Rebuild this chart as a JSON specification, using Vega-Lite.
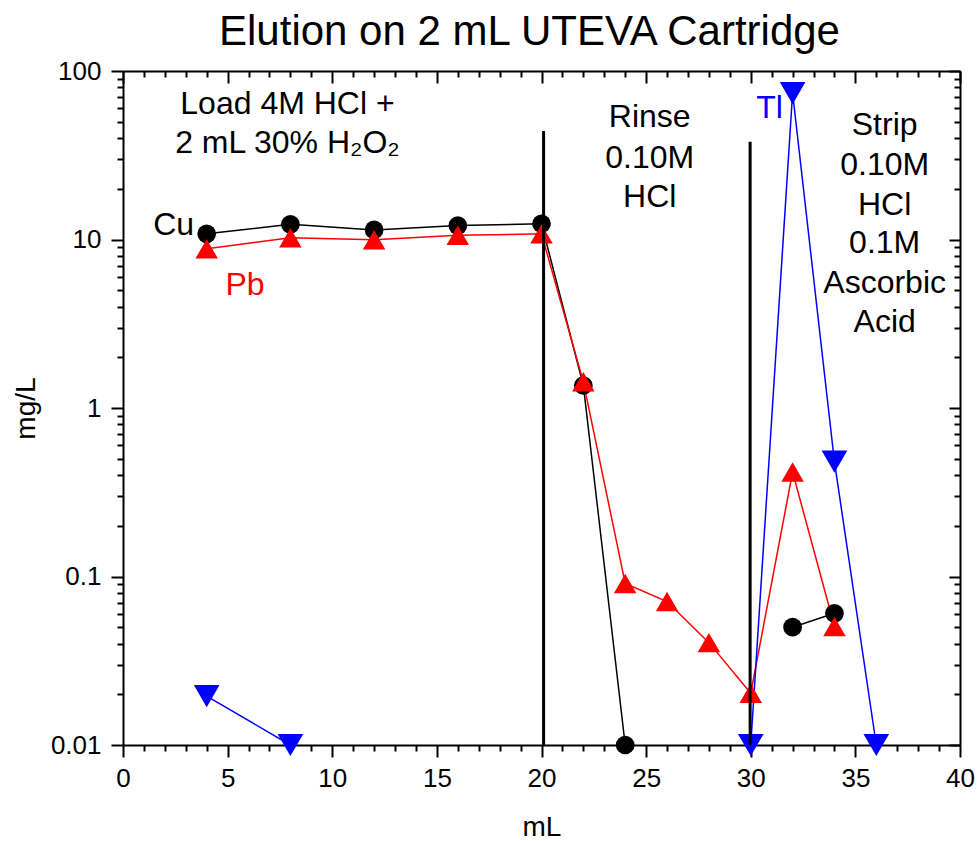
{
  "$schema": "https://vega.github.io/schema/vega-lite/v6.json",
  "autosize": {"type": "none"},
  "width": 837,
  "height": 674,
  "padding": {"left": 123, "top": 71, "right": 18, "bottom": 96},
  "background": "white",
  "title": {
    "text": "Elution on 2 mL UTEVA Cartridge",
    "font": "Liberation Sans",
    "fontSize": 42,
    "fontWeight": "normal",
    "color": "black",
    "anchor": "middle",
    "baseline": "alphabetic",
    "offset": 25,
    "dx": -12,
    "dy": 54
  },
  "config": {
    "view": {"stroke": null},
    "axis": {
      "grid": false,
      "domainColor": "black",
      "domainWidth": 2,
      "tickColor": "black",
      "tickWidth": 2,
      "labelFont": "Liberation Sans",
      "labelFontSize": 26,
      "labelColor": "black",
      "labelOverlap": false,
      "labelBound": false,
      "labelFlush": false,
      "titleFont": "Liberation Sans",
      "titleFontSize": 28,
      "titleFontWeight": "normal",
      "titleColor": "black"
    }
  },
  "datasets": {
    "series": [
      {"series": "Cu", "seg": "Cu1", "x": 4, "y": 10.8},
      {"series": "Cu", "seg": "Cu1", "x": 8, "y": 12.3},
      {"series": "Cu", "seg": "Cu1", "x": 12, "y": 11.4},
      {"series": "Cu", "seg": "Cu1", "x": 16, "y": 12.1},
      {"series": "Cu", "seg": "Cu1", "x": 20, "y": 12.4},
      {"series": "Cu", "seg": "Cu1", "x": 22, "y": 1.36},
      {"series": "Cu", "seg": "Cu1", "x": 24, "y": 0.01},
      {"series": "Cu", "seg": "Cu2", "x": 32, "y": 0.05},
      {"series": "Cu", "seg": "Cu2", "x": 34, "y": 0.0605},
      {"series": "Pb", "seg": "Pb1", "x": 4, "y": 8.8},
      {"series": "Pb", "seg": "Pb1", "x": 8, "y": 10.25},
      {"series": "Pb", "seg": "Pb1", "x": 12, "y": 9.97},
      {"series": "Pb", "seg": "Pb1", "x": 16, "y": 10.6},
      {"series": "Pb", "seg": "Pb1", "x": 20, "y": 10.8},
      {"series": "Pb", "seg": "Pb1", "x": 22, "y": 1.43},
      {"series": "Pb", "seg": "Pb1", "x": 24, "y": 0.091},
      {"series": "Pb", "seg": "Pb1", "x": 26, "y": 0.071},
      {"series": "Pb", "seg": "Pb1", "x": 28, "y": 0.0405},
      {"series": "Pb", "seg": "Pb1", "x": 30, "y": 0.0203},
      {"series": "Pb", "seg": "Pb1", "x": 32, "y": 0.417},
      {"series": "Pb", "seg": "Pb1", "x": 34, "y": 0.0505},
      {"series": "Tl", "seg": "Tl1", "x": 4, "y": 0.0195},
      {"series": "Tl", "seg": "Tl1", "x": 8, "y": 0.01},
      {"series": "Tl", "seg": "Tl2", "x": 30, "y": 0.01},
      {"series": "Tl", "seg": "Tl2", "x": 32, "y": 74},
      {"series": "Tl", "seg": "Tl2", "x": 34, "y": 0.48},
      {"series": "Tl", "seg": "Tl2", "x": 36, "y": 0.01}
    ],
    "rules": [
      {"x": 20.1, "y": 0.01, "y2": 44},
      {"x": 29.97, "y": 0.01, "y2": 38}
    ],
    "notes": [
      {"kind": "note", "text": "Load 4M HCl +", "x": 7.86, "y": 63.7},
      {"kind": "note", "text": "2 mL 30% H₂O₂", "x": 7.86, "y": 37.4},
      {"kind": "note", "text": "Rinse", "x": 25.17, "y": 53.3},
      {"kind": "note", "text": "0.10M", "x": 25.17, "y": 30.5},
      {"kind": "note", "text": "HCl", "x": 25.17, "y": 17.9},
      {"kind": "note", "text": "Strip", "x": 36.4, "y": 47.8},
      {"kind": "note", "text": "0.10M", "x": 36.4, "y": 27.7},
      {"kind": "note", "text": "HCl", "x": 36.4, "y": 16.0},
      {"kind": "note", "text": "0.1M", "x": 36.4, "y": 9.53},
      {"kind": "note", "text": "Ascorbic", "x": 36.4, "y": 5.52},
      {"kind": "note", "text": "Acid", "x": 36.4, "y": 3.24},
      {"kind": "Cu", "text": "Cu", "x": 2.42, "y": 12.2},
      {"kind": "Pb", "text": "Pb", "x": 5.83, "y": 5.35},
      {"kind": "Tl", "text": "Tl", "x": 30.9, "y": 60.2}
    ]
  },
  "layer": [
    {
      "data": {"name": "series"},
      "mark": {"type": "line", "strokeWidth": 1.5},
      "encoding": {
        "x": {
          "field": "x", "type": "quantitative",
          "scale": {"domain": [0, 40], "nice": false, "zero": false},
          "axis": {
            "orient": "bottom",
            "title": "mL",
            "values": [0,1,2,3,4,5,6,7,8,9,10,11,12,13,14,15,16,17,18,19,20,21,22,23,24,25,26,27,28,29,30,31,32,33,34,35,36,37,38,39,40],
            "tickSize": {"condition": {"test": "datum.value % 5 == 0", "value": 12}, "value": 6},
            "labelExpr": "datum.value % 5 == 0 ? datum.label : ''",
            "labelPadding": 8,
            "titlePadding": 22
          }
        },
        "y": {
          "field": "y", "type": "quantitative",
          "scale": {"type": "log", "domain": [0.01, 100], "nice": false},
          "axis": {
            "orient": "left",
            "title": "mg/L",
            "values": [0.01,0.02,0.03,0.04,0.05,0.06,0.07,0.08,0.09,0.1,0.2,0.3,0.4,0.5,0.6,0.7,0.8,0.9,1,2,3,4,5,6,7,8,9,10,20,30,40,50,60,70,80,90,100],
            "tickSize": {"condition": {"test": "indexof([0.01,0.1,1,10,100], datum.value) >= 0", "value": 12}, "value": 6},
            "labelExpr": "datum.value == 100 ? '100' : datum.value == 10 ? '10' : datum.value == 1 ? '1' : datum.value == 0.1 ? '0.1' : datum.value == 0.01 ? '0.01' : ''",
            "labelPadding": 10,
            "titlePadding": 10
          }
        },
        "color": {
          "field": "series", "type": "nominal",
          "scale": {"domain": ["Cu", "Pb", "Tl"], "range": ["#000000", "#ff0000", "#0000ff"]},
          "legend": null
        },
        "detail": {"field": "seg", "type": "nominal"}
      }
    },
    {
      "data": {"name": "series"},
      "mark": {"type": "point", "filled": true, "opacity": 1},
      "encoding": {
        "x": {
          "field": "x", "type": "quantitative",
          "axis": {
            "orient": "top",
            "title": null,
            "labels": false,
            "values": [0,1,2,3,4,5,6,7,8,9,10,11,12,13,14,15,16,17,18,19,20,21,22,23,24,25,26,27,28,29,30,31,32,33,34,35,36,37,38,39,40],
            "tickSize": {"condition": {"test": "datum.value % 5 == 0", "value": -12}, "value": -6}
          }
        },
        "y": {
          "field": "y", "type": "quantitative",
          "axis": {
            "orient": "right",
            "title": null,
            "labels": false,
            "values": [0.01,0.02,0.03,0.04,0.05,0.06,0.07,0.08,0.09,0.1,0.2,0.3,0.4,0.5,0.6,0.7,0.8,0.9,1,2,3,4,5,6,7,8,9,10,20,30,40,50,60,70,80,90,100],
            "tickSize": {"condition": {"test": "indexof([0.01,0.1,1,10,100], datum.value) >= 0", "value": -11}, "value": -6}
          }
        },
        "color": {"field": "series", "type": "nominal", "legend": null},
        "shape": {
          "field": "series", "type": "nominal",
          "scale": {"domain": ["Cu", "Pb", "Tl"], "range": ["circle", "triangle-up", "triangle-down"]},
          "legend": null
        },
        "size": {
          "field": "series", "type": "nominal",
          "scale": {"domain": ["Cu", "Pb", "Tl"], "range": [350, 660, 660]},
          "legend": null
        }
      }
    },
    {
      "data": {"name": "rules"},
      "mark": {"type": "rule", "color": "black", "strokeWidth": 3},
      "encoding": {
        "x": {"field": "x", "type": "quantitative", "axis": null},
        "y": {"field": "y", "type": "quantitative", "axis": null},
        "y2": {"field": "y2"}
      }
    },
    {
      "data": {"name": "notes"},
      "transform": [{"filter": "datum.kind == 'note' || datum.kind == 'Cu'"}],
      "mark": {"type": "text", "font": "Liberation Sans", "fontSize": 32, "align": "center", "baseline": "middle", "color": "black"},
      "encoding": {
        "x": {"field": "x", "type": "quantitative", "axis": null},
        "y": {"field": "y", "type": "quantitative", "axis": null},
        "text": {"field": "text"}
      }
    },
    {
      "data": {"name": "notes"},
      "transform": [{"filter": "datum.kind == 'Pb'"}],
      "mark": {"type": "text", "font": "Liberation Sans", "fontSize": 32, "align": "center", "baseline": "middle", "color": "#ff0000"},
      "encoding": {
        "x": {"field": "x", "type": "quantitative", "axis": null},
        "y": {"field": "y", "type": "quantitative", "axis": null},
        "text": {"field": "text"}
      }
    },
    {
      "data": {"name": "notes"},
      "transform": [{"filter": "datum.kind == 'Tl'"}],
      "mark": {"type": "text", "font": "Liberation Sans", "fontSize": 32, "align": "center", "baseline": "middle", "color": "#0000ff"},
      "encoding": {
        "x": {"field": "x", "type": "quantitative", "axis": null},
        "y": {"field": "y", "type": "quantitative", "axis": null},
        "text": {"field": "text"}
      }
    }
  ],
  "resolve": {"axis": {"x": "independent", "y": "independent"}}
}
